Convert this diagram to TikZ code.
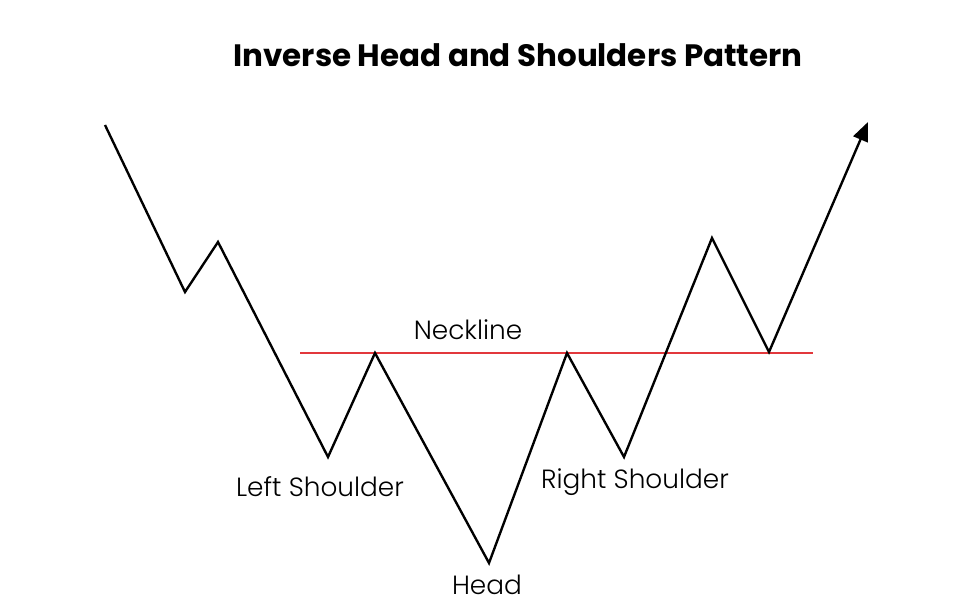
\documentclass[tikz,border=0pt]{standalone}
\usepackage{fontspec}
\setmainfont{Poppins}
\newfontfamily\lightfont{Poppins Light}
\usepackage{tikz}
\definecolor{neckred}{HTML}{E2383C}
\usetikzlibrary{arrows.meta,positioning}

\begin{document}
\begin{tikzpicture}[x=0.02cm,y=-0.02cm,
  price/.style={draw=black,line width=1.35pt,line join=miter},
  neck/.style={draw=neckred,line width=1.1pt},
  lbl/.style={font=\lightfont\fontsize{15}{17}\selectfont,inner sep=0pt},
  ttl/.style={font=\bfseries\fontsize{17.6}{20}\selectfont,inner sep=0pt},
  arr/.style={-{Triangle[length=3.8mm,width=3.1mm]}}]
\useasboundingbox (0,0) rectangle (973,611);
% swing points of the price line
\coordinate (start) at (105,125);
\coordinate (low1) at (185,292);
\coordinate (high1) at (218,242);
\coordinate (lsh) at (328,457);
\coordinate (nk1) at (375,353);
\coordinate (head) at (489,563);
\coordinate (nk2) at (567,353);
\coordinate (rsh) at (624,457);
\coordinate (high2) at (712,238);
\coordinate (retest) at (769,352);
\coordinate (tip) at (868,122);
% neckline ends
\coordinate (nlA) at (300,353);
\coordinate (nlB) at (813,353);

\node[ttl] (title) at (518,55) {Inverse Head and Shoulders Pattern};

\draw[neck] (nlA) -- (nlB);
\draw[price,arr] (start) -- (low1) -- (high1) -- (lsh) -- (nk1) -- (head)
  -- (nk2) -- (rsh) -- (high2) -- (retest) -- (tip);

\node[lbl] (neckline) at (468,330) {Neckline};
\node[lbl] (lshlbl) at (320,487) {Left Shoulder};
\node[lbl] (headlbl) at (487,585) {Head};
\node[lbl] (rshlbl) at (635,482) {Right Shoulder};
\end{tikzpicture}
\end{document}
